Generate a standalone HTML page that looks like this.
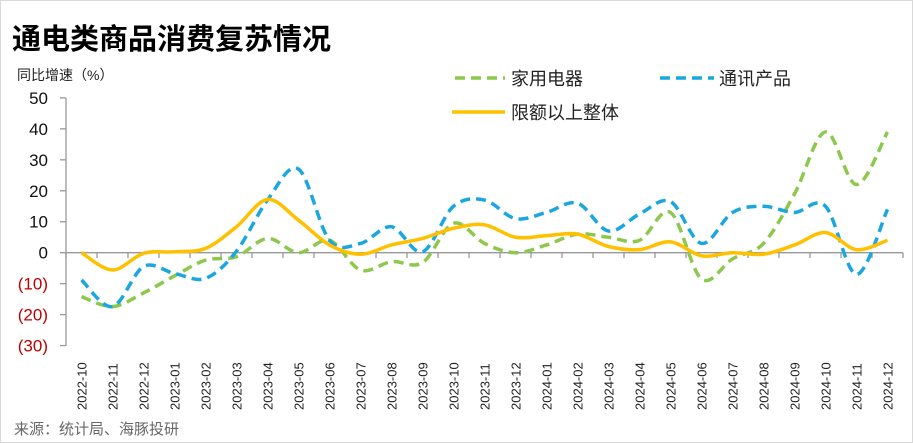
<!DOCTYPE html>
<html><head><meta charset="utf-8"><style>
body{margin:0;background:#fff;}
svg{display:block;font-family:"Liberation Sans","Noto Sans CJK SC",sans-serif;}
</style></head><body>
<svg id="s" width="913" height="443" xmlns="http://www.w3.org/2000/svg">
<rect x="0.5" y="0.5" width="912" height="442" fill="#fff" stroke="#d9d9d9"/>
<text x="12" y="49" font-size="29" font-weight="bold" fill="#000">通电类商品消费复苏情况</text>
<text x="17" y="80" font-size="14" fill="#222">同比增速（%）</text>
<g font-size="17" text-anchor="end" id="yl"></g>
<line x1="66" y1="98" x2="66" y2="346" stroke="#999" stroke-width="1.3"/>
<line x1="66" y1="252.7" x2="903" y2="252.7" stroke="#999" stroke-width="1.3"/>
<g id="ticks" stroke="#999" stroke-width="1.3"></g>
<g id="xl" font-size="13" fill="#222"></g>
<g id="lines" fill="none" stroke-width="3.5"></g>
<line x1="455" y1="78" x2="505" y2="78" stroke="#8cc84b" stroke-width="3.5" stroke-dasharray="10,6"/>
<text x="511" y="85" font-size="18" fill="#222">家用电器</text>
<line x1="660" y1="78" x2="714" y2="78" stroke="#1aa7e0" stroke-width="3.5" stroke-dasharray="10,6"/>
<text x="719" y="85" font-size="18" fill="#222">通讯产品</text>
<line x1="452" y1="112" x2="505" y2="112" stroke="#ffc000" stroke-width="3.5"/>
<text x="511" y="119" font-size="18" fill="#222">限额以上整体</text>
<text x="14" y="434" font-size="15" fill="#666">来源：统计局、海豚投研</text>
</svg>
<script>
var NS="http://www.w3.org/2000/svg";
function el(t,a,p,txt){var e=document.createElementNS(NS,t);for(var k in a)e.setAttribute(k,a[k]);if(txt!=null)e.textContent=txt;p.appendChild(e);return e;}
function Y(v){return 252.7-v*3.096;}
var yl=document.getElementById('yl'),tk=document.getElementById('ticks');
for(var v=50;v>=-30;v-=10){var y=Y(v);el('text',{x:48,y:y+6,fill:v<0?'#c00000':'#111'},yl,v<0?'('+(-v)+')':String(v));el('line',{x1:60,y1:y,x2:66,y2:y},tk);}
var labs=[];for(var i=0;i<27;i++){var m=(i+9)%12+1,yr=2022+Math.floor((i+9)/12);labs.push(yr+'-'+(m<10?'0':'')+m);}
var xl=document.getElementById('xl');
for(var i=0;i<=27;i++){var x=66+31*i;el('line',{x1:x,y1:252.7,x2:x,y2:258},tk);}
for(var i=0;i<27;i++){var x=81.5+31*i;el('text',{x:0,y:0,transform:'translate('+(x+5)+',410) rotate(-90)'},xl,labs[i]);}
var G=[-14.2,-17.4,-13,-7.5,-2.4,-1.3,4.6,0,4,-5.6,-2.9,-3.2,9.5,3,0,2.5,6,5,4,13,-8.5,-2,3,19,39,22,39];
var B=[-8.8,-17.4,-4.5,-6.7,-8.3,0.5,17,27,4,3,8.4,0.3,15,17,11,13,16,7,12.5,16.5,3,13,15,13,15,-7,14];
var O=[0,-5.6,-0.2,0.3,1.4,8.4,17.2,10.5,2.5,-0.5,2.5,4.6,7.9,9,5,5.5,6,2,1,3.5,-1,0,-0.5,2.5,6.5,1,4];
function path(d){var p=d.map(function(v,i){return [81.5+31*i,Y(v)];});var s='M'+p[0][0]+','+p[0][1];
for(var i=0;i<p.length-1;i++){var p0=p[Math.max(i-1,0)],p1=p[i],p2=p[i+1],p3=p[Math.min(i+2,p.length-1)],t=6;
s+=' C'+(p1[0]+(p2[0]-p0[0])/t)+','+(p1[1]+(p2[1]-p0[1])/t)+' '+(p2[0]-(p3[0]-p1[0])/t)+','+(p2[1]-(p3[1]-p1[1])/t)+' '+p2[0]+','+p2[1];}return s;}
var L=document.getElementById('lines');
el('path',{d:path(G),stroke:'#8cc84b','stroke-dasharray':'10,6'},L);
el('path',{d:path(B),stroke:'#1aa7e0','stroke-dasharray':'10,6'},L);
el('path',{d:path(O),stroke:'#ffc000'},L);
</script>
</body></html>
